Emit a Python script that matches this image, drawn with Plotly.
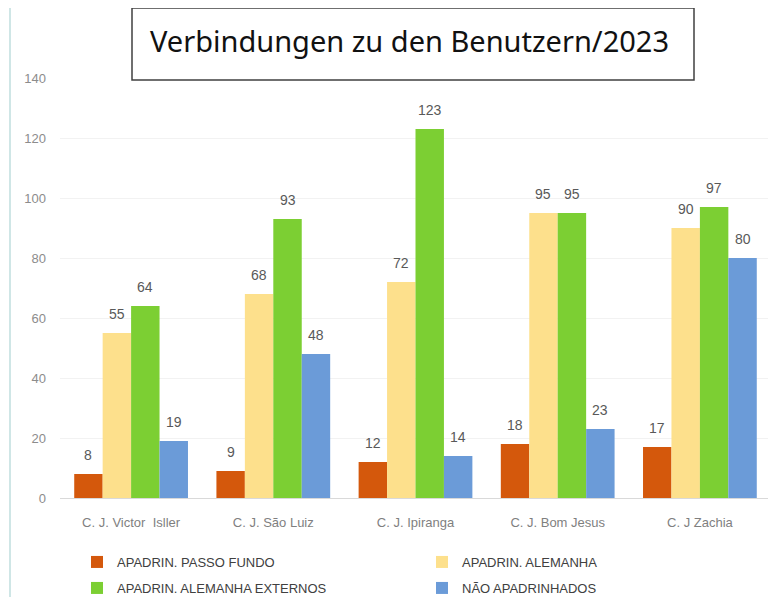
import plotly.graph_objects as go

categories = ["C. J. Victor  Isller", "C. J. São Luiz", "C. J. Ipiranga", "C. J. Bom Jesus", "C. J Zachia"]
series_names = ["APADRIN. PASSO FUNDO", "APADRIN. ALEMANHA", "APADRIN. ALEMANHA EXTERNOS", "NÃO APADRINHADOS"]
passo_fundo = [8, 9, 12, 18, 17]
alemanha = [55, 68, 72, 95, 90]
alemanha_externos = [64, 93, 123, 95, 97]
nao_apadrinhados = [19, 48, 14, 23, 80]
y_ticks = [0, 20, 40, 60, 80, 100, 120, 140]
title_text = "Verbindungen zu den Benutzern/2023"

colors = ["#d4580c", "#fde08c", "#7ccf33", "#6b9bd8"]
values = [passo_fundo, alemanha, alemanha_externos, nao_apadrinhados]

# the page body adds an 8px offset; work in window pixels and convert
OFF = 8
W, H = 776 - OFF, 597 - OFF
plot_left, plot_right, plot_top, plot_bottom = 60, 771, 78, 498
L = plot_left - OFF
T = plot_top - OFF
R = W - (plot_right - OFF)
B = H - (plot_bottom - OFF)
pw, ph = W - L - R, H - T - B

def px_x(p):
    return (p - plot_left) / pw

def px_y(p):
    return (plot_bottom - p) / ph

# legend layout: (legend id, text-start x px, row center y px)
legend_pos = [("legend", 117, 562), ("legend2", 462, 562), ("legend3", 117, 588), ("legend4", 462, 588)]

bargap = 0.2
cat_px = pw / len(categories)
bar_px = cat_px * (1 - bargap) / len(series_names)

fig = go.Figure()
for i, (name, vals, col) in enumerate(zip(series_names, values, colors)):
    lg = legend_pos[i][0]
    fig.add_trace(go.Bar(
        x=categories, y=vals, name=name, marker_color=col, marker_line_width=0,
        legend=lg, hoverinfo="x+y",
    ))
    off = (i - (len(series_names) - 1) / 2) * bar_px
    for c, v in zip(categories, vals):
        fig.add_annotation(x=c, y=v, xref="x", yref="y", text=str(v), showarrow=False,
                           xshift=off, yshift=9, yanchor="bottom",
                           font=dict(family="Liberation Sans, Arial", size=14, color="#595959"))

layout_legends = {}
for lg, tx, ty in legend_pos:
    layout_legends[lg] = dict(orientation="h", x=px_x(tx - 40), xanchor="left",
                              y=px_y(ty), yanchor="middle",
                              font=dict(size=13, color="#404040"), bgcolor="rgba(0,0,0,0)")

fig.update_layout(
    width=W, height=H,
    margin=dict(l=L, r=R, t=T, b=B, autoexpand=False),
    paper_bgcolor="white", plot_bgcolor="white",
    barmode="group", bargap=bargap, bargroupgap=0,
    font=dict(family="Liberation Sans, Arial", color="#808080"),
    xaxis=dict(showline=True, linecolor="#d9d9d9", linewidth=1, ticks="",
               ticklabelstandoff=12,
               tickfont=dict(size=13, color="#7f7f7f"), showgrid=False),
    yaxis=dict(range=[0, 140], tickvals=y_ticks, showgrid=True, gridcolor="#f2f2f2",
               zeroline=False, showline=False, ticks="", ticklabelstandoff=13,
               tickfont=dict(size=13, color="#8c8c8c")),
    showlegend=True,
    **layout_legends,
)

# left light border line
fig.add_shape(type="line", xref="paper", yref="paper",
              x0=px_x(10), x1=px_x(10), y0=px_y(597), y1=px_y(OFF),
              line=dict(color="#cfe6e6", width=2), layer="above")

# title box
fig.add_shape(type="rect", xref="paper", yref="paper",
              x0=px_x(132), x1=px_x(694), y0=px_y(80), y1=px_y(8),
              line=dict(color="#404040", width=1.5), fillcolor="white", layer="above")
fig.add_annotation(text=title_text, xref="paper", yref="paper",
                   x=px_x(409), y=px_y(40), xanchor="center", yanchor="middle",
                   showarrow=False, font=dict(family="Noto Sans", size=29, color="#111111"))

fig.write_html("out.html")
